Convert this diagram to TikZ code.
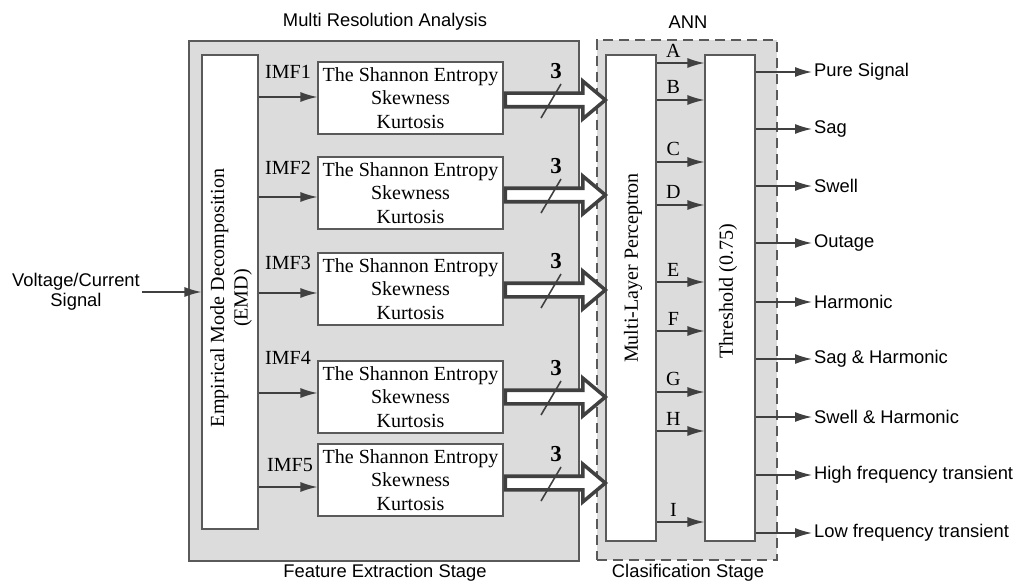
\documentclass[tikz,border=0pt]{standalone}
\usepackage{fontspec}
\setmainfont{Liberation Serif}
\setsansfont{Liberation Sans}
\usetikzlibrary{arrows.meta,shapes.arrows,positioning}
\definecolor{panelgray}{RGB}{220,220,220}
\definecolor{edgegray}{RGB}{90,90,90}
\definecolor{inkgray}{RGB}{64,64,64}
\begin{document}
\begin{tikzpicture}[x=0.02cm, y=-0.02cm,
  stage/.style={draw=edgegray, fill=panelgray, line width=1.1pt, minimum width=7.8cm, minimum height=10.4cm, inner sep=0pt},
  featbox/.style={draw=edgegray, fill=white, line width=0.7pt, minimum width=3.7cm, minimum height=1.44cm, align=center, inner sep=0pt, font=\fontsize{11.4}{13.3}\selectfont},
  tallbox/.style={draw=edgegray, fill=white, line width=0.7pt, minimum width=1cm, minimum height=9.72cm, inner sep=0pt},
  sertext/.style={font=\fontsize{11.4}{13.3}\selectfont, inner sep=1pt},
  sanstext/.style={font=\sffamily\fontsize{10.45}{11.5}\selectfont, inner sep=1pt},
  flow/.style={draw=inkgray, line width=0.8pt, -{Latex[length=0.34cm,width=0.2cm]}},
  fat/.style={single arrow, draw=inkgray, fill=white, line width=2pt, line join=miter, inner sep=0.1cm, single arrow head extend=0.24cm, single arrow tip angle=80, minimum height=2cm, anchor=tail},
  tick/.style={draw=inkgray, line width=0.9pt},
  num/.style={font=\bfseries\fontsize{13}{15}\selectfont, inner sep=0pt}
]
\useasboundingbox (0,0) rectangle (1017,584);

% stages
\node[stage] (fes) at (384,301) {};
\node[stage, draw=edgegray, dash pattern=on 5.7pt off 3.4pt, minimum width=3.6cm] (ann) at (687,300) {};
\node[sanstext] (t1) at (385,22) {Multi Resolution Analysis};
\node[sanstext] (t2) at (688,22) {ANN};
\node[sanstext] (t3) at (385,573) {Feature Extraction Stage};
\node[sanstext] (t4) at (688,573) {Clasification Stage};

% input and EMD
\node[draw=edgegray, fill=white, line width=0.7pt, minimum width=1.12cm, minimum height=9.48cm, inner sep=0pt] (emd) at (230,292) {};
\node[sertext, rotate=90, align=center] (emdtxt) at (231,298) {Empirical Mode Decomposition\\(EMD)};
\node[sanstext, align=center] (vin) at (76,292) {Voltage/Current\\Signal};
\draw[flow] (vin.east |- emd.west) -- (emd.west);

% feature boxes
\foreach \y [count=\i] in {98,193,289,397,480}
  \node[featbox] (f\i) at (410.5,\y) {The Shannon Entropy\\Skewness\\Kurtosis};
\node[sertext] (imf1) at (288,72) {IMF1};
\node[sertext] (imf2) at (288,168) {IMF2};
\node[sertext] (imf3) at (288,263) {IMF3};
\node[sertext] (imf4) at (288,358) {IMF4};
\node[sertext] (imf5) at (290,465) {IMF5};
\foreach \y [count=\i] in {97,197,293,393,487}
  \draw[flow] (emd.east |- 0,\y) -- (f\i.west |- 0,\y);

% ANN blocks
\node[tallbox] (mlp) at (631,298) {};
\node[tallbox] (thr) at (730,298) {};
\node[sertext, rotate=90] (mlptxt) at (633,268) {Multi-Layer Perceptron};
\node[sertext, rotate=90] (thrtxt) at (728,291) {Threshold (0.75)};

% features into the perceptron
\foreach \y [count=\i] in {100,195,290,397,483} {
  \node[fat] (h\i) at (f\i.east |- 0,\y) {};
  \draw[tick] (541,\y+18) -- (561,\y-16);
  \node[num] (n\i) at (556,\y-29) {3};
}

% perceptron outputs
\foreach \y/\l in {63/A,100/B,162/C,205/D,282/E,331/F,392/G,431/H,522/I}
  \draw[flow] (mlp.east |- 0,\y) -- (thr.west |- 0,\y) node[sertext, pos=0.35, above=2pt] {\l};

% classes
\foreach \y/\t [count=\i] in {72/Pure Signal,129/Sag,186/Swell,243/Outage,302/Harmonic,359/Sag \& Harmonic,417/Swell \& Harmonic,475/High frequency transient,533/Low frequency transient} {
  \node[sanstext, anchor=west] (o\i) at (812,\y) {\t};
  \draw[flow] (thr.east |- o\i.west) -- (o\i.west);
}
\end{tikzpicture}
\end{document}
